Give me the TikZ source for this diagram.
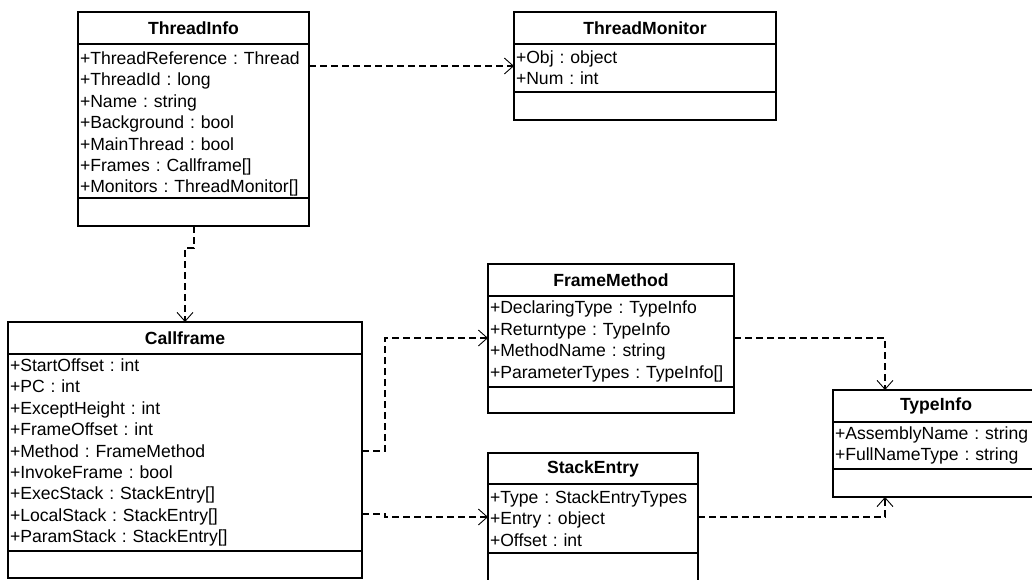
\documentclass[tikz,border=0pt]{standalone}
\usepackage{fontspec}
\setmainfont{Liberation Sans}
\usepackage{tikz}
\usetikzlibrary{arrows.meta, positioning, calc}

\newcommand\umlfont{\fontsize{17.6pt}{21.4pt}\selectfont\frenchspacing}

\tikzset{
	cname/.style={draw, line width=1.1pt, outer sep=0pt, font=\umlfont\bfseries, minimum height=32pt, inner sep=0pt, anchor=north west},
	cattr/.style={draw, line width=1.1pt, outer sep=0pt, align=left, inner xsep=2pt, inner ysep=0pt, anchor=north},
	cops/.style={draw, line width=1.1pt, outer sep=0pt, inner sep=0pt, anchor=north},
	dep/.style={line width=1.3pt, dash pattern=on 7pt off 4pt, -{Straight Barb[length=9pt,width=16pt,line width=0.9pt]}}
}

\begin{document}
\begin{tikzpicture}[x=1pt, y=-1pt, font=\umlfont]
	\useasboundingbox (0,0) rectangle (1032,579);

	% ThreadInfo
	\node[cname, minimum width=231pt] (tin) at (78,12) {ThreadInfo};
	\node[cattr, minimum width=231pt, text width=227pt, minimum height=154pt] (tia) at (tin.south) {\rule{0pt}{19pt}+ThreadReference : Thread\\+ThreadId : long\\+Name : string\\+Background : bool\\+MainThread : bool\\+Frames : Callframe[]\\+Monitors : ThreadMonitor[]};
	\node[cops, minimum width=231pt, minimum height=28pt] (tio) at (tia.south) {};

	% ThreadMonitor
	\node[cname, minimum width=262pt] (tmn) at (514,12) {ThreadMonitor};
	\node[cattr, minimum width=262pt, text width=258pt, minimum height=48pt] (tma) at (tmn.south) {+Obj : object\\+Num : int};
	\node[cops, minimum width=262pt, minimum height=28pt] (tmo) at (tma.south) {};

	% Callframe
	\node[cname, minimum width=354pt] (cfn) at (8,322) {Callframe};
	\node[cattr, minimum width=354pt, text width=350pt, minimum height=197pt] (cfa) at (cfn.south) {+StartOffset : int\\+PC : int\\+ExceptHeight : int\\+FrameOffset : int\\+Method : FrameMethod\\+InvokeFrame : bool\\+ExecStack : StackEntry[]\\+LocalStack : StackEntry[]\\+ParamStack : StackEntry[]};
	\node[cops, minimum width=354pt, minimum height=27pt] (cfo) at (cfa.south) {};

	% FrameMethod
	\node[cname, minimum width=246pt] (fmn) at (488,264) {FrameMethod};
	\node[cattr, minimum width=246pt, text width=242pt, minimum height=91pt] (fma) at (fmn.south) {+DeclaringType : TypeInfo\\+Returntype : TypeInfo\\+MethodName : string\\+ParameterTypes : TypeInfo[]};
	\node[cops, minimum width=246pt, minimum height=26pt] (fmo) at (fma.south) {};

	% StackEntry
	\node[cname, minimum width=210pt, minimum height=31pt] (sen) at (488,453) {StackEntry};
	\node[cattr, minimum width=210pt, text width=206pt, minimum height=69pt] (sea) at (sen.south) {+Type : StackEntryTypes\\+Entry : object\\+Offset : int};
	\node[cops, minimum width=210pt, minimum height=34pt] (seo) at (sea.south) {};

	% TypeInfo
	\node[cname, minimum width=206pt] (typn) at (833,390) {TypeInfo};
	\node[cattr, minimum width=206pt, text width=202pt, minimum height=47pt] (typa) at (typn.south) {+AssemblyName : string\\+FullNameType : string};
	\node[cops, minimum width=206pt, minimum height=28pt] (typo) at (typa.south) {};

	% dependencies
	\draw[dep] (tia.east |- 0,66) -- (tma.west |- 0,66);
	\draw[dep] (tio.south -| 194,0) -- (194,248) -- (185,248) -- (cfn.north -| 185,0);
	\draw[dep] (cfa.east |- 0,451) -- (385,451) -- (385,338) -- (fma.west |- 0,338);
	\draw[dep] (cfa.east |- 0,514) -- (385,514) -- (385,517) -- (sea.west |- 0,517);
	\draw[dep] (fma.east |- 0,338) -- (885,338) -- (typn.north -| 885,0);
	\draw[dep] (sea.east |- 0,517) -- (885,517) -- (typo.south -| 885,0);
\end{tikzpicture}
\end{document}
